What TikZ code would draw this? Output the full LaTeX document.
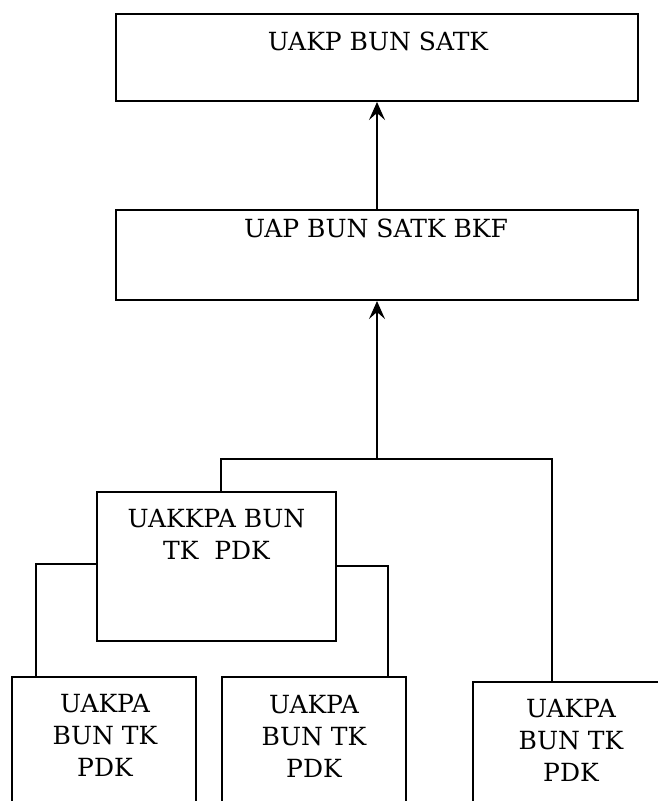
\documentclass[tikz,border=0pt]{standalone}
\usepackage{fontspec}
\setmainfont{DejaVu Serif}
\usetikzlibrary{arrows.meta}
\begin{document}
\begin{tikzpicture}[x=1pt,y=-1pt,
  box/.style={draw, line width=2pt, rectangle, inner sep=0pt},
  lbl/.style={inner sep=0pt, anchor=north, align=center, font=\fontsize{25}{32}\selectfont},
  conn/.style={line width=2pt},
  arr/.style={line width=2pt, -{Stealth[length=18pt,width=16pt,inset=7pt]}}]
\useasboundingbox (0,0) rectangle (658,801);
\clip (0,0) rectangle (658,801);
\fill[white] (0,0) rectangle (658,801);
% boxes
\node[box, minimum width=522pt, minimum height=87pt] (top) at (377,57.5) {};
\node[box, minimum width=522pt, minimum height=90pt] (mid) at (377,255) {};
\node[box, minimum width=239pt, minimum height=149pt] (uakk) at (216.5,566.5) {};
\node[box, minimum width=184pt, minimum height=153pt] (b1) at (104,753.5) {};
\node[box, minimum width=184pt, minimum height=153pt] (b2) at (314,753.5) {};
\node[box, minimum width=196pt, minimum height=148pt] (b3) at (571,756) {};
% texts
\node[lbl] (toptxt) at (378,32) {UAKP BUN SATK};
\node[lbl] (midtxt) at (376,219) {UAP BUN SATK BKF};
\node[lbl] (uakktxt) at (216.5,509) {UAKKPA BUN\\TK\ \ PDK};
\node[lbl] (b1txt) at (105,694) {UAKPA\\BUN TK\\PDK};
\node[lbl] (b2txt) at (314,695) {UAKPA\\BUN TK\\PDK};
\node[lbl] (b3txt) at (571,699) {UAKPA\\BUN TK\\PDK};
% connector points
\coordinate (j) at (377,459);
\coordinate (jl) at (221,459);
\coordinate (jr) at (552,459);
\coordinate (kl) at (36,564);
\coordinate (kr) at (388,566);
% connectors
\draw[arr] (mid.north) -- (top.south);
\draw[arr] (j) -- (mid.south);
\draw[conn] (jl |- uakk.north) -- (jl) -- (jr) -- (jr |- b3.north);
\draw[conn] (uakk.west |- kl) -- (kl) -- (kl |- b1.north);
\draw[conn] (uakk.east |- kr) -- (kr) -- (kr |- b2.north);
\end{tikzpicture}
\end{document}
